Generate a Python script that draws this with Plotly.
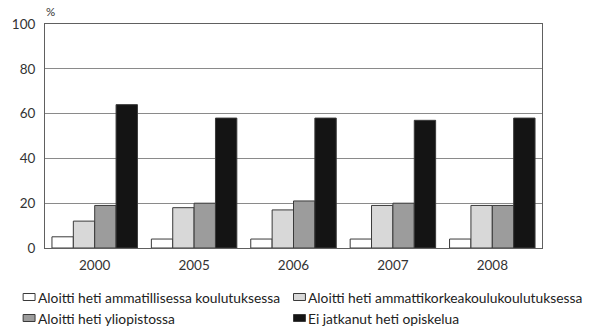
import plotly.graph_objects as go

years = ["2000", "2005", "2006", "2007", "2008"]
ammatillinen = [5, 4, 4, 4, 4]
amk = [12, 18, 17, 19, 19]
yliopisto = [19, 20, 21, 20, 19]
ei_jatkanut = [64, 58, 58, 57, 58]

series_names = [
    "Aloitti heti ammatillisessa koulutuksessa",
    "Aloitti heti ammattikorkeakoulukoulutuksessa",
    "Aloitti heti yliopistossa",
    "Ei jatkanut heti opiskelua",
]
series_values = [ammatillinen, amk, yliopisto, ei_jatkanut]
fills = ["#ffffff", "#d8d8d8", "#9c9c9c", "#141414"]

FONT = "Lato, sans-serif"
W, H = 596, 328
ML, MR, MT, MB = 42, 54, 24, 80
PW, PH = W - ML - MR, H - MT - MB


def px_x(px):
    return (px - ML) / PW


def px_y(py):
    return (H - MB - py) / PH


fig = go.Figure()
for name, vals, col in zip(series_names, series_values, fills):
    fig.add_trace(go.Bar(
        x=years, y=vals, name=name,
        marker=dict(color=col, line=dict(color="#3a3a3a", width=1)),
    ))

# two-column legend below the plot: swatch + label
legend_slots = [(20, 297), (292, 297), (20, 318), (292, 318)]
shapes, annotations = [], []
for (sx, sy), name, col in zip(legend_slots, series_names, fills):
    shapes.append(dict(
        type="rect", xref="paper", yref="paper",
        x0=px_x(sx), x1=px_x(sx + 12), y0=px_y(sy - 3.5), y1=px_y(sy + 3.5),
        fillcolor=col, line=dict(color="#3a3a3a", width=1),
    ))
    annotations.append(dict(
        text=name, xref="paper", yref="paper", x=px_x(sx + 13), y=px_y(sy),
        xanchor="left", yanchor="middle", showarrow=False,
        font=dict(family=FONT, size=13.8, color="#222222"),
    ))

annotations.append(dict(
    text="%", xref="paper", yref="paper", x=px_x(41), y=px_y(11),
    xanchor="left", yanchor="middle", showarrow=False,
    font=dict(family=FONT, size=11.5, color="#333333"),
))

fig.update_layout(
    width=W, height=H,
    margin=dict(l=ML, r=MR, t=MT, b=MB),
    paper_bgcolor="white", plot_bgcolor="white",
    barmode="group", bargap=0.14, bargroupgap=0,
    font=dict(family=FONT, size=13.5, color="#333333"),
    showlegend=False,
    xaxis=dict(
        showline=True, linecolor="#606060", linewidth=1, mirror=True,
        ticks="", ticklabelstandoff=5, tickfont=dict(size=13.5),
    ),
    yaxis=dict(
        range=[0, 100], dtick=20, showgrid=True, gridcolor="#8a8a8a", gridwidth=1,
        showline=True, linecolor="#606060", linewidth=1, mirror=True,
        ticks="", ticklabelstandoff=6, tickfont=dict(size=13.5), zeroline=False,
    ),
    shapes=shapes,
    annotations=annotations,
)

fig.write_html("out.html")
